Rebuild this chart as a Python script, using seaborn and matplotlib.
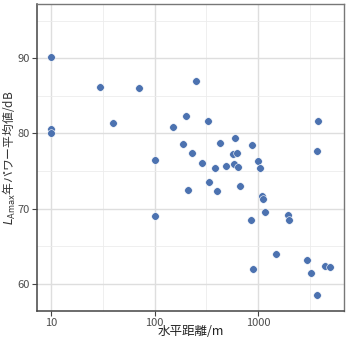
import numpy as np
import pandas as pd
import matplotlib
matplotlib.use('Agg')
import matplotlib.pyplot as plt
import seaborn as sns
from matplotlib.ticker import FixedLocator, NullFormatter

# horizontal distance [m] and yearly power-average LAmax [dB]
distance = [10, 10, 10, 30, 40, 70, 100, 100, 150, 188, 200, 208, 228, 250, 287,
            326, 337, 397, 380, 428, 486, 584, 567, 624, 593, 643, 667, 865, 843,
            892, 989, 1040, 1081, 1120, 1155, 1486, 1953, 1970, 2956, 3253, 3718,
            3802, 3718, 4417, 4935]
lamax = [90.2, 80.6, 80.0, 86.2, 81.4, 86.1, 76.4, 69.0, 80.9, 78.6, 82.3, 72.5,
         77.4, 87.0, 76.0, 81.6, 73.5, 72.4, 75.4, 78.7, 75.6, 75.9, 77.3, 77.4,
         79.4, 75.5, 73.0, 78.4, 68.5, 61.9, 76.3, 75.4, 71.7, 71.3, 69.5, 64.0,
         69.1, 68.5, 63.1, 61.4, 58.5, 81.7, 77.6, 62.3, 62.2]
x_ticks = [10, 100, 1000]
y_ticks = [60, 70, 80, 90]

df = pd.DataFrame({'distance': distance, 'lamax': lamax})

sns.set_style('white')
plt.rcParams['font.family'] = ['Noto Sans CJK JP', 'DejaVu Sans']

fig = plt.figure(figsize=(3.46, 3.38), dpi=100)
ax = fig.add_axes([37 / 346, 27 / 338, 307 / 346, 307 / 338])

sns.scatterplot(data=df, x='distance', y='lamax', ax=ax, color='#4C72B0',
                s=30, edgecolor='white', linewidth=0.4, zorder=3)

ax.set_xscale('log')
ax.set_xlim(10 ** 0.865, 10 ** 3.828)
ax.set_ylim(56.36, 97.23)

ax.xaxis.set_major_locator(FixedLocator(x_ticks))
ax.set_xticklabels([str(t) for t in x_ticks])
ax.xaxis.set_minor_locator(FixedLocator([10 ** 0.5, 10 ** 1.5, 10 ** 2.5, 10 ** 3.5]))
ax.xaxis.set_minor_formatter(NullFormatter())
ax.yaxis.set_major_locator(FixedLocator(y_ticks))
ax.yaxis.set_minor_locator(FixedLocator([65, 75, 85, 95]))

ax.grid(which='major', color='#dedede', linewidth=1.0)
ax.grid(which='minor', color='#ececec', linewidth=0.6)
ax.set_axisbelow(True)

ax.tick_params(which='major', direction='out', length=3.5, width=0.8, color='#444444',
               labelsize=8, labelcolor='#4d4d4d', pad=1.5, bottom=True, left=True)
ax.tick_params(which='minor', length=0)

for side in ['left', 'bottom']:
    ax.spines[side].set_color('#444444')
    ax.spines[side].set_linewidth(1.1)
for side in ['top', 'right']:
    ax.spines[side].set_color('#777777')
    ax.spines[side].set_linewidth(1.0)

ax.set_xlabel('水平距離/m', fontsize=9, color='#222222')
ax.set_ylabel(r'$L_{\mathrm{Amax}}$年パワー平均値/dB', fontsize=8.5, color='#333333')
ax.xaxis.set_label_coords(0.5, -0.047)
ax.yaxis.set_label_coords(-0.063, 0.5)

fig.savefig('out.png', dpi=100)
plt.close(fig)
